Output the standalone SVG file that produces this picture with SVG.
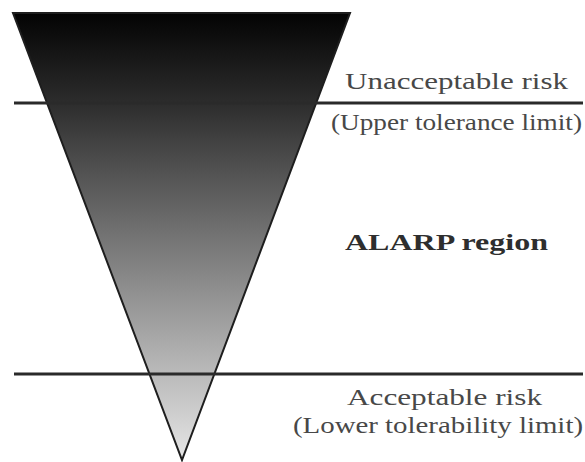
<svg xmlns="http://www.w3.org/2000/svg" width="585" height="462" viewBox="0 0 585 462">
<style>
.lbl{font-family:"Liberation Serif","DejaVu Serif",serif;font-size:24px;fill:#484848}
.bold{font-weight:bold;fill:#2e2e2e}
.lim{stroke:#2a2a2a;stroke-width:3;fill:none}
</style>
<defs>
<linearGradient id="g" x1="0" y1="13" x2="0" y2="460" gradientUnits="userSpaceOnUse">
<stop offset="0" stop-color="#030303"/>
<stop offset="0.2" stop-color="#2c2c2c"/>
<stop offset="0.3" stop-color="#454545"/>
<stop offset="0.75" stop-color="#adadad"/>
<stop offset="1" stop-color="#e6e6e6"/>
</linearGradient>
</defs>
<rect width="585" height="462" fill="#ffffff"/>
<g id="triangle">
<polygon points="13,13 350,13 182,460" fill="url(#g)" stroke="#1e1e1e" stroke-width="2" stroke-linejoin="miter"/>
</g>
<g id="connectors">
<line class="lim" x1="14" y1="103" x2="583" y2="103"/>
<line class="lim" x1="14" y1="374" x2="583" y2="374"/>
</g>
<g id="upper">
<text class="lbl" x="345" y="89" textLength="223" lengthAdjust="spacingAndGlyphs">Unacceptable risk</text>
<text class="lbl" x="331" y="130" textLength="251" lengthAdjust="spacingAndGlyphs">(Upper tolerance limit)</text>
</g>
<g id="alarp">
<text class="lbl bold" x="345" y="250" textLength="203" lengthAdjust="spacingAndGlyphs">ALARP region</text>
</g>
<g id="lower">
<text class="lbl" x="347" y="405" textLength="195" lengthAdjust="spacingAndGlyphs">Acceptable risk</text>
<text class="lbl" x="293" y="433" textLength="290" lengthAdjust="spacingAndGlyphs">(Lower tolerability limit)</text>
</g>
</svg>
